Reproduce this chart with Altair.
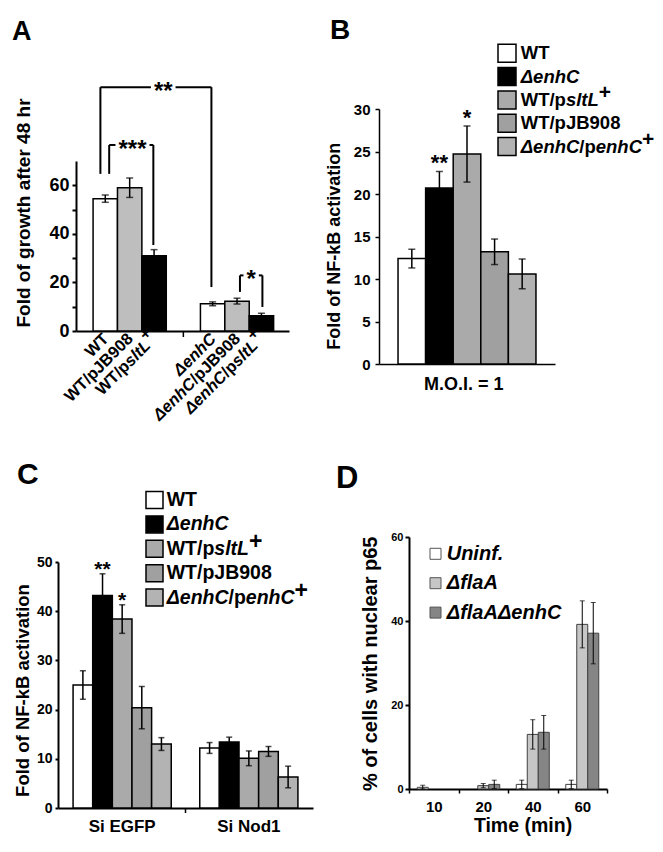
import altair as alt
import pandas as pd

FONT = "Liberation Sans"

# ---------------- data ----------------
# Panel A
A_STRAINS = ["WT", "WT/pJB908", "WT/psltL+", "ΔenhC", "ΔenhC/pJB908", "ΔenhC/psltL+"]
A_VALUES = [54.5, 59.0, 31.0, 11.2, 12.3, 6.3]
A_ERRORS = [1.5, 4.0, 2.5, 0.8, 1.2, 1.0]
# significance brackets: left bar, right bar, top, left foot, right foot, label
A_BRACKETS = [
    ("WT", "ΔenhC", 100.4, 64.7, 18.1, "**"),
    ("WT", "WT/psltL+", 76.6, 64.7, 35.4, "***"),
    ("ΔenhC/pJB908", "ΔenhC/psltL+", 22.9, 16.1, 9.9, "*"),
]

# Panel B
B_STRAINS = ["WT", "ΔenhC", "WT/psltL+", "WT/pJB908", "ΔenhC/penhC+"]
B_VALUES = [12.4, 20.7, 24.7, 13.2, 10.6]
B_ERRORS = [1.1, 1.95, 3.3, 1.5, 1.75]
B_STARS = ["", "**", "*", "", ""]

# Panel C
C_CONDITIONS = ["Si EGFP", "Si Nod1"]
C_EGFP = [25.0, 43.2, 38.4, 20.4, 13.0]
C_EGFP_ERR = [2.9, 4.4, 2.9, 4.3, 1.3]
C_EGFP_STARS = ["", "**", "*", "", ""]
C_NOD1 = [12.2, 13.4, 10.1, 11.5, 6.3]
C_NOD1_ERR = [1.1, 1.0, 1.5, 1.0, 2.2]

# Panel D
D_TIMES = ["10", "20", "40", "60"]
D_SERIES = ["Uninf.", "ΔflaA", "ΔflaAΔenhC"]
D_UNINF = [0.4, 0.0, 1.1, 1.1]
D_UNINF_ERR = [0.5, 0.0, 1.0, 1.0]
D_FLAA = [0.0, 0.8, 13.0, 39.2]
D_FLAA_ERR = [0.0, 0.5, 3.5, 5.6]
D_FLAAENHC = [0.0, 1.1, 13.5, 37.1]
D_FLAAENHC_ERR = [0.0, 1.0, 4.0, 7.3]

# ---------------- styles ----------------
A_FILLS = ["white", "#bebebe", "black", "white", "#bebebe", "black"]
BC_FILLS = {"WT": "white", "ΔenhC": "black", "WT/psltL+": "#aaaaaa",
            "WT/pJB908": "#a0a0a0", "ΔenhC/penhC+": "#b3b3b3"}
D_FILLS = {"Uninf.": "white", "ΔflaA": "#c6c6c6", "ΔflaAΔenhC": "#858585"}

RICH = {
    "WT": [("WT", "n")],
    "WT/pJB908": [("WT/pJB908", "n")],
    "WT/psltL+": [("WT/p", "n"), ("sltL", "i"), ("+", "sup")],
    "ΔenhC": [("ΔenhC", "i")],
    "ΔenhC/pJB908": [("ΔenhC", "i"), ("/pJB908", "n")],
    "ΔenhC/psltL+": [("ΔenhC", "i"), ("/p", "n"), ("sltL", "i"), ("+", "sup")],
    "ΔenhC/penhC+": [("ΔenhC", "i"), ("/p", "n"), ("enhC", "i"), ("+", "sup")],
    "Uninf.": [("Uninf.", "i")],
    "ΔflaA": [("ΔflaA", "i")],
    "ΔflaAΔenhC": [("ΔflaAΔenhC", "i")],
}

CW = {' ': 278, '!': 333, '%': 889, '(': 333, ')': 333, '*': 389, '+': 584, '.': 278,
      '/': 278, '-': 333, '=': 584, 'Δ': 668}
for d in "0123456789":
    CW[d] = 556
CW.update({'A': 722, 'B': 722, 'C': 722, 'D': 722, 'E': 667, 'F': 611, 'G': 778, 'H': 722,
           'I': 278, 'J': 556, 'K': 722, 'L': 611, 'M': 833, 'N': 722, 'O': 778, 'P': 667,
           'R': 722, 'S': 667, 'T': 611, 'U': 722, 'W': 944,
           'a': 556, 'b': 611, 'c': 556, 'd': 611, 'e': 556, 'f': 333, 'g': 611, 'h': 611,
           'i': 278, 'j': 278, 'k': 556, 'l': 278, 'm': 889, 'n': 611, 'o': 611, 'p': 611,
           'r': 389, 's': 556, 't': 333, 'u': 611, 'v': 556, 'w': 778, 'x': 556, 'y': 556})


def tw(s, fs):
    return sum(CW.get(ch, 600) for ch in s) / 1000.0 * fs


ONE = pd.DataFrame({"k": [0]})
VW, VH = 647, 836          # whole drawing area (page minus 8px margin)


def letter(txt, x, y, fs):
    return alt.Chart(ONE).mark_text(text=txt, font=FONT, fontSize=fs, fontWeight="bold",
                                    align="left", baseline="top", color="black").encode(
        x=alt.value(x), y=alt.value(y))


def legend_layers(keys, fills, x_sq, sq, y0, step, x_txt, fs, sup_fs, sup_dy, stroke, sw):
    layers = []
    for i, key in enumerate(keys):
        yc = y0 + i * step
        layers.append(alt.Chart(ONE).mark_rect(fill=fills[key], stroke=stroke, strokeWidth=sw).encode(
            x=alt.value(x_sq), x2=alt.value(x_sq + sq),
            y=alt.value(yc - sq / 2), y2=alt.value(yc + sq / 2)))
        xo = x_txt
        for text, st in RICH[key]:
            size = sup_fs if st == "sup" else fs
            layers.append(alt.Chart(ONE).mark_text(
                text=text, font=FONT, fontSize=size, fontWeight="bold",
                fontStyle="italic" if st == "i" else "normal", align="left",
                baseline="middle", dy=sup_dy if st == "sup" else 0, color="black").encode(
                x=alt.value(xo), y=alt.value(yc)))
            xo += tw(text, size)
    return layers


def yaxis(values, x_axis, title_x, title_y, label_fs, title_fs, tick, pad, dw, expr=None):
    kw = dict(orient="left", offset=-x_axis, values=values, tickSize=tick, tickWidth=dw,
              domainWidth=dw, labelFontSize=label_fs, labelPadding=pad, titleFontSize=title_fs,
              titleX=title_x, titleY=title_y, titleAngle=270, titleBaseline="bottom",
              titleAlign="center", grid=False)
    if expr:
        kw["labelExpr"] = expr
    return alt.Axis(**kw)


# ======================= Panel A =======================
A_XR, A_YR = [68, 281], [323, 153]
GAP_A = 1.4
A_XDOM = [-1.2, 7.53]
PXS_A = (A_XR[1] - A_XR[0]) / (A_XDOM[1] - A_XDOM[0])
slot = {s: i + (GAP_A if i >= 3 else 0) for i, s in enumerate(A_STRAINS)}

df_a = pd.DataFrame({"strain": A_STRAINS, "value": A_VALUES, "err": A_ERRORS, "fill": A_FILLS})
df_a["slot"] = [slot[s] for s in A_STRAINS]
df_a["x0"] = df_a["slot"] - 0.5
df_a["x1"] = df_a["slot"] + 0.5
df_a["zero"] = 0.0
df_a["lo"] = df_a["value"] - df_a["err"]
df_a["hi"] = df_a["value"] + df_a["err"]
df_mid_a = pd.DataFrame({"mid": [(slot["WT/psltL+"] + slot["ΔenhC"]) / 2], "zero": [0.0]})

AX_A = alt.Axis(orient="bottom", offset=A_YR[0] - VH, labels=False, ticks=False,
                domainWidth=2, grid=False)
AY_A = yaxis([0, 10, 20, 30, 40, 50, 60], A_XR[0], -43, 204.5, 18, 19, 4, 3, 2,
             "datum.value % 20 == 0 ? datum.label : ''")


def XA(f):
    return alt.X(f, type="quantitative",
                 scale=alt.Scale(domain=A_XDOM, range=A_XR, nice=False, zero=False),
                 axis=AX_A, title=None)


def YA(f):
    return alt.Y(f, type="quantitative", scale=alt.Scale(domain=[0, 70], range=A_YR, nice=False),
                 axis=AY_A, title="Fold of growth after 48 hr")


A_NUDGE = [(-0.2, -0.05, 0.3), (0.16, -0.03, 0.05), (0.12, 0.04, 0.0)]
STAR_FS_A = 24
seg_rows, star_rows = [], []
for (l, r, top, lf, rf, lab), (nl, nr, nm) in zip(A_BRACKETS, A_NUDGE):
    xl, xr = slot[l] + nl, slot[r] + nr
    xm = (xl + xr) / 2 + nm
    half = (tw(lab, STAR_FS_A) / 2 + 3) / PXS_A
    seg_rows += [(xl, xl, lf, top), (xl, xm - half, top, top),
                 (xm + half, xr, top, top), (xr, xr, top, rf)]
    star_rows.append((xm, top, lab))
df_seg = pd.DataFrame(seg_rows, columns=["x", "x2", "y", "y2"])
df_star = pd.DataFrame(star_rows, columns=["x", "y", "label"])

a_layers = [
    alt.Chart(df_a).mark_bar(stroke="black", strokeWidth=1.5).encode(
        x=XA("x0"), x2="x1", y=YA("value"), y2="zero", fill=alt.Fill("fill:N", scale=None)),
    alt.Chart(df_a).mark_rule(strokeWidth=1.5, color="black").encode(
        x=XA("slot"), y=YA("lo"), y2="hi"),
    alt.Chart(df_a).mark_tick(orient="horizontal", size=7, thickness=1.5, color="black").encode(
        x=XA("slot"), y=YA("hi")),
    alt.Chart(df_a).mark_tick(orient="horizontal", size=7, thickness=1.5, color="black").encode(
        x=XA("slot"), y=YA("lo")),
    alt.Chart(df_seg).mark_rule(strokeWidth=2, color="black").encode(
        x=XA("x"), x2="x2", y=YA("y"), y2="y2"),
    alt.Chart(df_star).mark_text(font=FONT, fontSize=STAR_FS_A, fontWeight="bold",
                                 baseline="middle", dy=5, color="black").encode(
        x=XA("x"), y=YA("y"), text="label:N"),
    alt.Chart(df_mid_a).mark_rule(strokeWidth=1.5, color="black").encode(
        x=XA("mid"), y=YA("zero"), y2=alt.value(A_YR[0] + 6)),
]
LAB_FS_A = 16.5
for s in A_STRAINS:
    segs = RICH[s]
    widths = [tw(t, LAB_FS_A) for t, _ in segs]
    for k, (t, st) in enumerate(segs):
        after = sum(widths[k + 1:])
        a_layers.append(alt.Chart(pd.DataFrame({"slot": [slot[s]]})).mark_text(
            text=t, font=FONT, fontSize=LAB_FS_A, fontWeight="bold",
            fontStyle="italic" if st == "i" else "normal", angle=315, align="right",
            baseline="middle", dx=1 - after, dy=-8 if st == "sup" else 0, color="black").encode(
            x=XA("slot"), y=alt.value(A_YR[0] + 6)))
panel_a = alt.layer(*a_layers)

# ======================= Panel B =======================
B_XR, B_YR = [371, 547], [356, 101]
df_b = pd.DataFrame({"strain": B_STRAINS, "value": B_VALUES, "err": B_ERRORS, "stars": B_STARS})
df_b["lo"] = df_b["value"] - df_b["err"]
df_b["hi"] = df_b["value"] + df_b["err"]
df_b["fill"] = [BC_FILLS[s] for s in B_STRAINS]

AX_B = alt.Axis(orient="bottom", offset=B_YR[0] - VH, labels=False, ticks=False,
                domainWidth=1.5, titleFontSize=18, titleX=455.3, titleY=11.4,
                titleBaseline="top", titleAlign="center", grid=False)
AY_B = yaxis([0, 5, 10, 15, 20, 25, 30], B_XR[0], -36, 237.8, 15, 18, 4, 5, 1.5)


def XB():
    return alt.X("strain:N", sort=B_STRAINS,
                 scale=alt.Scale(range=B_XR, paddingInner=0, paddingOuter=0.69),
                 axis=AX_B, title="M.O.I. = 1")


def YB(f):
    return alt.Y(f, type="quantitative", scale=alt.Scale(domain=[0, 30], range=B_YR, nice=False),
                 axis=AY_B, title="Fold of NF-kB activation")


panel_b = alt.layer(
    alt.Chart(df_b).mark_bar(stroke="black", strokeWidth=1.5).encode(
        x=XB(), y=YB("value"), fill=alt.Fill("fill:N", scale=None)),
    alt.Chart(df_b).mark_rule(strokeWidth=1.5, color="black").encode(x=XB(), y=YB("lo"), y2="hi"),
    alt.Chart(df_b).mark_tick(size=7, thickness=1.5, color="black").encode(x=XB(), y=YB("hi")),
    alt.Chart(df_b).mark_tick(size=7, thickness=1.5, color="black").encode(x=XB(), y=YB("lo")),
    alt.Chart(df_b).mark_text(font=FONT, fontSize=22, fontWeight="bold", baseline="middle",
                              dy=-8, color="black").encode(x=XB(), y=YB("hi"), text="stars:N"),
)

# ======================= Panel C =======================
C_XR, C_YR = [50, 305], [800, 554]
rows = []
for cond, vals, errs, stars in [("Si EGFP", C_EGFP, C_EGFP_ERR, C_EGFP_STARS),
                                ("Si Nod1", C_NOD1, C_NOD1_ERR, [""] * 5)]:
    for s, v, e, st in zip(B_STRAINS, vals, errs, stars):
        rows.append({"cond": cond, "strain": s, "value": v, "lo": v - e, "hi": v + e,
                     "stars": st, "fill": BC_FILLS[s]})
df_c = pd.DataFrame(rows)

AX_C = alt.Axis(orient="bottom", offset=C_YR[0] - VH, labelAngle=0, ticks=False,
                labelFontSize=17, labelPadding=10, domainWidth=2, grid=False)
AY_C = yaxis([0, 10, 20, 30, 40, 50], C_XR[0], -26, 682, 14, 18.5, 3, 3, 2)


def XC():
    return alt.X("cond:N", sort=C_CONDITIONS,
                 scale=alt.Scale(range=C_XR, paddingInner=0.225, paddingOuter=0.119),
                 axis=AX_C, title=None)


def XOC():
    return alt.XOffset("strain:N", sort=B_STRAINS, scale=alt.Scale(paddingInner=0, paddingOuter=0))


def YC(f):
    return alt.Y(f, type="quantitative", scale=alt.Scale(domain=[0, 50], range=C_YR, nice=False),
                 axis=AY_C, title="Fold of NF-kB activation")


C_MID = (C_XR[0] + C_XR[1]) / 2   # boundary between the two symmetric groups
panel_c = alt.layer(
    alt.Chart(df_c).mark_bar(stroke="black", strokeWidth=1.5).encode(
        x=XC(), xOffset=XOC(), y=YC("value"), fill=alt.Fill("fill:N", scale=None)),
    alt.Chart(df_c).mark_rule(strokeWidth=1.5, color="black").encode(
        x=XC(), xOffset=XOC(), y=YC("lo"), y2="hi"),
    alt.Chart(df_c).mark_tick(size=6, thickness=1.5, color="black").encode(
        x=XC(), xOffset=XOC(), y=YC("hi")),
    alt.Chart(df_c).mark_tick(size=6, thickness=1.5, color="black").encode(
        x=XC(), xOffset=XOC(), y=YC("lo")),
    alt.Chart(df_c).mark_text(font=FONT, fontSize=21, fontWeight="bold", baseline="middle",
                              dy=-4, color="black").encode(
        x=XC(), xOffset=XOC(), y=YC("hi"), text="stars:N"),
)
c_tick = alt.Chart(ONE).mark_rule(strokeWidth=1.5, color="black").encode(
    x=alt.value(C_MID), y=alt.value(C_YR[0]), y2=alt.value(C_YR[0] + 5))

# ======================= Panel D =======================
D_XR, D_YR = [401, 599], [781, 529]
rows = []
for ser, vals, errs in [("Uninf.", D_UNINF, D_UNINF_ERR), ("ΔflaA", D_FLAA, D_FLAA_ERR),
                        ("ΔflaAΔenhC", D_FLAAENHC, D_FLAAENHC_ERR)]:
    for t, v, e in zip(D_TIMES, vals, errs):
        rows.append({"time": t, "series": ser, "value": v, "err": e,
                     "lo": max(0.0, v - e), "hi": v + e, "fill": D_FILLS[ser]})
df_d = pd.DataFrame(rows)
df_d_bars = df_d[df_d["value"] > 0]
df_d_err = df_d[df_d["err"] > 0]

AX_D = alt.Axis(orient="bottom", offset=D_YR[0] - VH, labelAngle=0, tickBand="extent",
                tickSize=4, tickWidth=1.5, labelFontSize=15, labelPadding=6, domainWidth=2,
                titleFontSize=19.5, titleX=514.5, titleY=27.5, titleBaseline="top",
                titleAlign="center", grid=False)
AY_D = yaxis([0, 20, 40, 60], D_XR[0], -29, 655.3, 11, 20, 4, 2, 2)


def XD():
    return alt.X("time:N", sort=D_TIMES,
                 scale=alt.Scale(range=D_XR, paddingInner=0, paddingOuter=0),
                 axis=AX_D, title="Time (min)")


def XOD():
    return alt.XOffset("series:N", sort=D_SERIES,
                       scale=alt.Scale(paddingInner=0, paddingOuter=0.75))


def YD(f):
    return alt.Y(f, type="quantitative", scale=alt.Scale(domain=[0, 60], range=D_YR, nice=False),
                 axis=AY_D, title="% of cells with nuclear p65")


panel_d = alt.layer(
    alt.Chart(df_d_bars).mark_bar(stroke="#404040", strokeWidth=1).encode(
        x=XD(), xOffset=XOD(), y=YD("value"), fill=alt.Fill("fill:N", scale=None)),
    alt.Chart(df_d_err).mark_rule(strokeWidth=1, color="black").encode(
        x=XD(), xOffset=XOD(), y=YD("lo"), y2="hi"),
    alt.Chart(df_d_err).mark_tick(size=5, thickness=1, color="black").encode(
        x=XD(), xOffset=XOD(), y=YD("hi")),
    alt.Chart(df_d_err).mark_tick(size=5, thickness=1, color="black").encode(
        x=XD(), xOffset=XOD(), y=YD("lo")),
)

# ======================= annotations (letters, legends) =======================
annotations = [
    c_tick,
    letter("A", 4, 11, 27),
    letter("B", 322, 9, 28),
    letter("C", 9, 452, 30),
    letter("D", 328, 456, 31),
]
annotations += legend_layers(B_STRAINS, BC_FILLS, 490, 18, 45.3, 23.3, 512.7, 18.5, 21, -7, "black", 1.5)
annotations += legend_layers(B_STRAINS, BC_FILLS, 138, 17, 492, 24.4, 158.7, 19.5, 23, -7, "black", 1.5)
annotations += legend_layers(D_SERIES, D_FILLS, 422, 11, 545.8, 29.4, 438.7, 20, 20, 0, "#555555", 1)

chart = alt.layer(panel_a, panel_b, panel_c, panel_d, *annotations).resolve_scale(
    x="independent", y="independent", xOffset="independent"
).resolve_axis(
    x="independent", y="independent"
).properties(
    width=VW, height=VH, padding=0, autosize=alt.AutoSizeParams(type="none")
).configure_view(stroke=None).configure_axis(
    grid=False, labelFont=FONT, titleFont=FONT, labelFontWeight="bold",
    titleFontWeight="bold", labelColor="black", titleColor="black",
    domainColor="black", tickColor="black"
)

chart.save("out.html", embed_options={"renderer": "svg", "actions": False})
